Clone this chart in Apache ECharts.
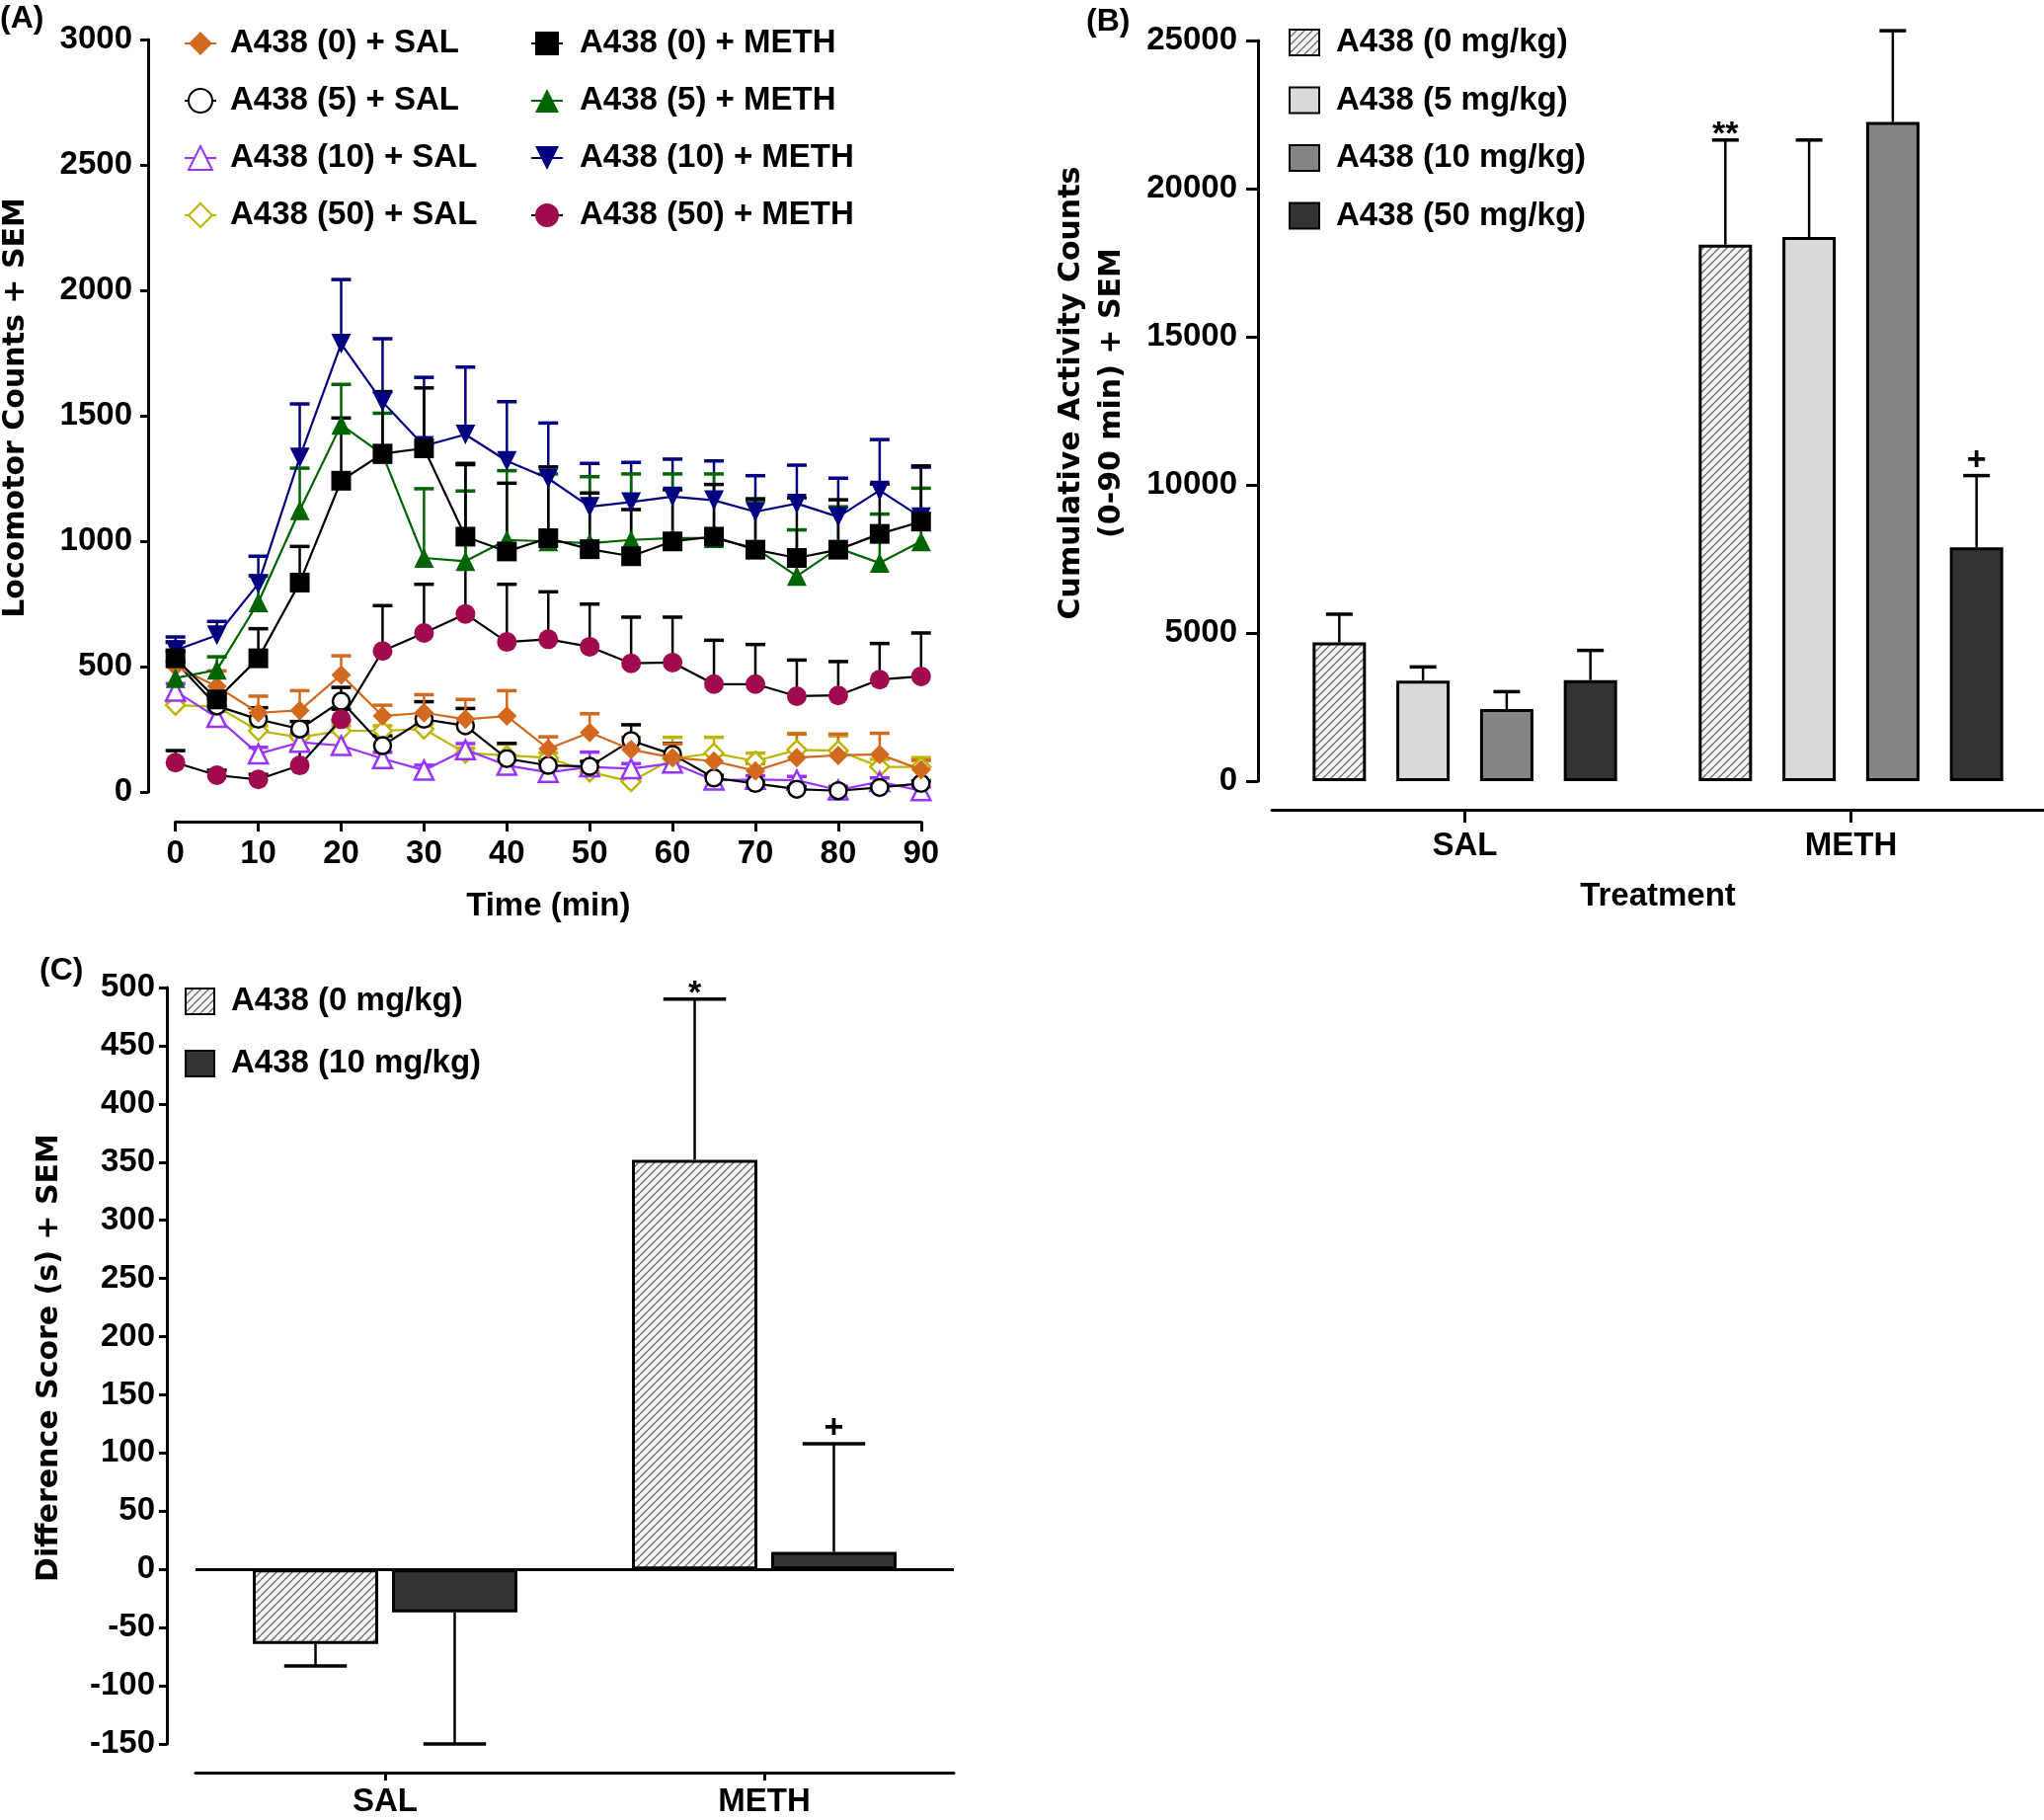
<!DOCTYPE html>
<html><head><meta charset="utf-8">
<script src="https://cdn.jsdelivr.net/npm/echarts/dist/echarts.min.js"></script>
<style>html,body{margin:0;padding:0;background:#fff}#c{width:2070px;height:1843px}</style>
</head><body><div id="c"></div>
<script>
// ---------- Panel A: locomotor counts over time ----------
const timeMin = [0,5,10,15,20,25,30,35,40,45,50,55,60,65,70,75,80,85,90];
const sal0 = [500,421,316,325,467,303,316,290,303,172,237,169,137,123,84,137,146,150,89];
const sal0Sem = [96,62,66,79,76,43,72,79,101,48,75,49,55,30,30,94,85,84,37];
const sal5 = [520,343,290,251,362,185,290,264,133,106,102,205,150,56,34,11,5,18,34];
const sal5Sem = [40,30,46,30,55,39,70,69,61,20,20,63,44,10,10,10,10,10,10];
const sal10 = [402,297,152,198,185,133,87,168,106,78,100,93,115,47,50,47,8,41,5];
const sal10Sem = [30,25,26,30,98,25,20,25,20,20,59,20,20,15,15,15,15,15,15];
const sal50 = [346,340,244,218,244,244,251,155,146,136,80,41,133,155,123,168,165,100,100];
const sal50Sem = [15,20,20,20,20,20,20,20,46,20,20,20,85,63,32,66,59,30,37];
const meth0 = [533,369,533,835,1241,1349,1370,1018,959,1012,968,940,999,1018,966,933,966,1029,1078];
const meth0Sem = [65,21,118,144,250,247,241,292,272,284,224,186,206,208,203,240,199,199,222];
const meth5 = [454,487,756,1123,1464,1346,933,920,1005,999,992,1005,1012,1012,972,861,972,913,999];
const meth5Sem = [66,52,105,168,161,164,276,280,276,269,265,263,256,256,191,184,165,195,212];
const meth10 = [565,625,830,1334,1787,1555,1380,1425,1320,1250,1137,1156,1178,1163,1117,1150,1097,1202,1095];
const meth10Sem = [53,55,110,213,256,252,273,269,236,221,173,158,149,157,144,153,154,203,200];
const meth50 = [117,67,50,106,290,562,634,710,598,609,579,513,516,430,430,382,385,448,461];
const meth50Sem = [48,20,20,59,40,181,194,595,230,189,170,184,181,175,158,144,135,144,173];
const yTicksA = [0,500,1000,1500,2000,2500,3000];

// ---------- Panel B: cumulative activity ----------
const treatments = ['SAL','METH'];
const doseNames = ['A438 (0 mg/kg)','A438 (5 mg/kg)','A438 (10 mg/kg)','A438 (50 mg/kg)'];
const cumDose0 = [4680,18110], cumSem0 = [955,3530];
const cumDose5 = [3390,18365], cumSem5 = [465,3275];
const cumDose10 = [2430,22250], cumSem10 = [590,3080];
const cumDose50 = [3410,7890], cumSem50 = [1003,2423];
const cumMarks0 = ['','**'], cumMarks50 = ['','+'];

// ---------- Panel C: difference score ----------
const diffDose0 = [-64,352], diffSem0 = [19,138];
const diffDose10 = [-37,15], diffSem10 = [113,93];
const diffMarks0 = ['','*'], diffMarks10 = ['','+'];

const FF = '"Liberation Sans", Arial, sans-serif';
const BLACK = '#000';

function hatch(){
  const c=document.createElement('canvas'); c.width=c.height=8;
  const g=c.getContext('2d'); g.fillStyle='#f3f3f3'; g.fillRect(0,0,8,8);
  g.strokeStyle='#6a6a6a'; g.lineWidth=1.3; g.beginPath();
  for (const o of [-8,0,8]) { g.moveTo(o,8); g.lineTo(o+8,0); }
  g.stroke(); return c;
}
const hatchFill = {image: hatch(), repeat: 'repeat'};

function errA(color){
  return function(params, api){
    const t=api.value(0), v=api.value(1), s=api.value(2);
    if (!s) return;
    const p0=api.coord([t,v]), p1=api.coord([t,v+s]);
    const cw=10;
    return {type:'group', children:[
      {type:'line', shape:{x1:p0[0],y1:p0[1],x2:p1[0],y2:p1[1]}, style:{stroke:color,lineWidth:2.5}},
      {type:'line', shape:{x1:p1[0]-cw,y1:p1[1],x2:p1[0]+cw,y2:p1[1]}, style:{stroke:color,lineWidth:3.5}}
    ]};
  };
}
function barErr(idx, n, bw, gapFrac, marks){
  return function(params, api){
    const cat=api.value(0), v=api.value(1), s=api.value(2);
    const base=api.coord([cat,v]);
    const gap=bw*gapFrac, total=n*bw+(n-1)*gap;
    const x=base[0]-total/2+idx*(bw+gap)+bw/2;
    const dir=v>=0?1:-1;
    const end=api.coord([cat,v+dir*s])[1];
    const cw=bw/4;
    const kids=[
      {type:'line', shape:{x1:x,y1:base[1],x2:x,y2:end}, style:{stroke:BLACK,lineWidth:2.5}},
      {type:'line', shape:{x1:x-cw,y1:end,x2:x+cw,y2:end}, style:{stroke:BLACK,lineWidth:3.5}}
    ];
    const m=marks&&marks[params.dataIndex];
    if (m) kids.push({type:'text', x:x, y:end-(m.indexOf('*')>=0?5:15),
      style:{text:m, fill:BLACK, font:'bold 34px '+FF, align:'center', verticalAlign:'middle'}});
    return {type:'group', children:kids};
  };
}

const groupsA = [
  {name:'A438 (50) + SAL', v:sal50, s:sal50Sem, c:'#bdb500', lc:'#bdb500', sym:'diamond', size:19, hollow:true},
  {name:'A438 (10) + SAL', v:sal10, s:sal10Sem, c:'#9933ff', lc:'#9933ff', sym:'triangle', size:19, hollow:true},
  {name:'A438 (5) + SAL', v:sal5, s:sal5Sem, c:'#000000', lc:'#000000', sym:'circle', size:17, hollow:true},
  {name:'A438 (0) + SAL', v:sal0, s:sal0Sem, c:'#d2691e', lc:'#d2691e', sym:'diamond', size:20},
  {name:'A438 (50) + METH', v:meth50, s:meth50Sem, c:'#a00b4f', lc:'#000000', sym:'circle', size:20},
  {name:'A438 (10) + METH', v:meth10, s:meth10Sem, c:'#000080', lc:'#000080', sym:'triangle', size:20, rot:180},
  {name:'A438 (5) + METH', v:meth5, s:meth5Sem, c:'#006400', lc:'#006400', sym:'triangle', size:20},
  {name:'A438 (0) + METH', v:meth0, s:meth0Sem, c:'#000000', lc:'#000000', sym:'rect', size:20}
];

const series = [];
groupsA.forEach((g,k)=>{
  series.push({type:'custom', name:g.name+' SEM', xAxisIndex:0, yAxisIndex:0, silent:true, z:2,
    data: timeMin.map((t,i)=>[t,g.v[i],g.s[i]]), renderItem: errA(g.lc)});
});
groupsA.forEach((g,k)=>{
  series.push({type:'line', name:g.name, xAxisIndex:0, yAxisIndex:0, z:3+k,
    data: timeMin.map((t,i)=>[t,g.v[i]]), symbol:g.sym, symbolSize:g.size, symbolRotate:g.rot||0,
    showSymbol:true, showAllSymbol:true, lineStyle:{color:g.lc,width:2.2},
    itemStyle: g.hollow ? {color:'#fff', borderColor:g.c, borderWidth:2.5} : {color:g.c, borderWidth:0},
    emphasis:{disabled:true}});
});

const barB = [
  {d:cumDose0, s:cumSem0, fill:hatchFill, m:cumMarks0},
  {d:cumDose5, s:cumSem5, fill:'#d9d9d9', m:null},
  {d:cumDose10, s:cumSem10, fill:'#858585', m:null},
  {d:cumDose50, s:cumSem50, fill:'#333333', m:cumMarks50}
];
const BWB=54, GAPB=0.57;
barB.forEach((b,i)=>{
  series.push({type:'bar', name:doseNames[i], xAxisIndex:1, yAxisIndex:1, data:b.d, barWidth:BWB, barGap:(GAPB*100)+'%',
    itemStyle:{color:b.fill, borderColor:BLACK, borderWidth:3}, emphasis:{disabled:true}});
});
barB.forEach((b,i)=>{
  series.push({type:'custom', name:'B err '+i, xAxisIndex:1, yAxisIndex:1, silent:true, z:5,
    data: treatments.map((t,j)=>[j,b.d[j],b.s[j]]), renderItem: barErr(i,4,BWB,GAPB,b.m)});
});
const barC = [
  {name:'C: '+doseNames[0], d:diffDose0, s:diffSem0, fill:hatchFill, m:diffMarks0},
  {name:'C: '+doseNames[2], d:diffDose10, s:diffSem10, fill:'#333333', m:diffMarks10}
];
const BWC=127, GAPC=0.11;
barC.forEach((b,i)=>{
  const s={type:'bar', name:b.name, xAxisIndex:2, yAxisIndex:2, data:b.d, barWidth:BWC, barGap:(GAPC*100)+'%',
    itemStyle:{color:b.fill, borderColor:BLACK, borderWidth:3}, emphasis:{disabled:true}};
  if (i===1) s.markLine={silent:true, symbol:'none', data:[{yAxis:0}], label:{show:false},
    lineStyle:{color:BLACK,width:3,type:'solid'}, z:10};
  series.push(s);
});
barC.forEach((b,i)=>{
  series.push({type:'custom', name:'C err '+i, xAxisIndex:2, yAxisIndex:2, silent:true, z:5,
    data: treatments.map((t,j)=>[j,b.d[j],b.s[j]]), renderItem: barErr(i,2,BWC,GAPC,b.m)});
});

const lab = {fontSize:33, fontWeight:'bold', color:BLACK, fontFamily:FF};
const plain = v => String(v);
const axLine = {show:true, onZero:false, lineStyle:{color:BLACK,width:3}};
function tick(len){ return {show:true, length:len, lineStyle:{color:BLACK,width:3}}; }

const legText = {fontSize:33, fontWeight:'bold', color:BLACK, fontFamily:FF, lineHeight:34};
const TITLE_FONT = 'bold 30px "DejaVu Sans"';

const option = {
  animation:false,
  backgroundColor:'#fff',
  textStyle:{fontFamily:FF, color:BLACK},
  grid:[
    {left:177.7, top:40, width:755.1, height:762, outerBoundsMode:'none'},
    {left:1288, top:41, width:782, height:750, outerBoundsMode:'none'},
    {left:198, top:1000, width:768, height:766, outerBoundsMode:'none'}
  ],
  xAxis:[
    {gridIndex:0, type:'value', min:0, max:90, interval:10, offset:30, axisLine:axLine, axisTick:tick(10),
     axisLabel:Object.assign({margin:16, formatter:plain},lab), splitLine:{show:false},
     name:'Time (min)', nameLocation:'middle', nameGap:69, nameTextStyle:lab},
    {gridIndex:1, type:'category', data:treatments, offset:29, axisLine:axLine,
     axisTick:Object.assign({alignWithLabel:true},tick(13)), axisLabel:Object.assign({margin:20},lab),
     name:'Treatment', nameLocation:'middle', nameGap:71, nameTextStyle:lab},
    {gridIndex:2, type:'category', data:treatments, offset:29, axisLine:axLine,
     axisTick:Object.assign({alignWithLabel:true},tick(8)), axisLabel:Object.assign({margin:13},lab)}
  ],
  yAxis:[
    {gridIndex:0, type:'value', min:yTicksA[0], max:yTicksA[yTicksA.length-1], interval:500, offset:27.7, axisLine:axLine,
     axisTick:tick(8), axisLabel:Object.assign({margin:16, formatter:plain},lab), splitLine:{show:false}},
    {gridIndex:1, type:'value', min:0, max:25000, interval:5000, offset:14, axisLine:axLine,
     axisTick:tick(12), axisLabel:Object.assign({margin:21, formatter:plain},lab), splitLine:{show:false}},
    {gridIndex:2, type:'value', min:-150, max:500, interval:50, offset:29, axisLine:axLine,
     axisTick:tick(8), axisLabel:Object.assign({margin:12, formatter:plain},lab), splitLine:{show:false}}
  ],
  legend:[
    {orient:'vertical', left:181, top:22, itemWidth:32, itemHeight:30, itemGap:24, selectedMode:false,
     data:['A438 (0) + SAL','A438 (5) + SAL','A438 (10) + SAL','A438 (50) + SAL'],
     textStyle:Object.assign({padding:[0,0,0,9]},legText)},
    {orient:'vertical', left:532, top:22, itemWidth:32, itemHeight:30, itemGap:24, selectedMode:false,
     data:['A438 (0) + METH','A438 (5) + METH','A438 (10) + METH','A438 (50) + METH'],
     textStyle:Object.assign({padding:[0,0,0,12]},legText)},
    {orient:'vertical', left:1300, top:21, itemWidth:30, itemHeight:26, itemGap:24.5, selectedMode:false, icon:'rect',
     data:doseNames, textStyle:Object.assign({padding:[0,0,0,12]},legText)},
    {orient:'vertical', left:182, top:992, itemWidth:29, itemHeight:26, itemGap:29, selectedMode:false, icon:'rect',
     data:barC.map(b=>b.name), formatter:n=>n.replace(/^C: /,''),
     textStyle:Object.assign({padding:[0,0,0,12]},legText)}
  ],
  graphic:[
    {type:'text', x:16, y:413, rotation:Math.PI/2, style:{text:'Locomotor Counts + SEM', font:TITLE_FONT, fill:BLACK, align:'center', verticalAlign:'middle'}},
    {type:'text', x:1085, y:398, rotation:Math.PI/2, style:{text:'Cumulative Activity Counts', font:TITLE_FONT, fill:BLACK, align:'center', verticalAlign:'middle'}},
    {type:'text', x:1126, y:398, rotation:Math.PI/2, style:{text:'(0-90 min) + SEM', font:TITLE_FONT, fill:BLACK, align:'center', verticalAlign:'middle'}},
    {type:'text', x:50, y:1375, rotation:Math.PI/2, style:{text:'Difference Score (s) + SEM', font:TITLE_FONT, fill:BLACK, align:'center', verticalAlign:'middle'}},
    {type:'text', x:0, y:19, style:{text:'(A)', font:'bold 32px '+FF, fill:BLACK, align:'left', verticalAlign:'middle'}},
    {type:'text', x:1100, y:22, style:{text:'(B)', font:'bold 32px '+FF, fill:BLACK, align:'left', verticalAlign:'middle'}},
    {type:'text', x:40, y:983, style:{text:'(C)', font:'bold 32px '+FF, fill:BLACK, align:'left', verticalAlign:'middle'}}
  ],
  series: series
};
const chart = echarts.init(document.getElementById('c'), null, {renderer:'canvas'});
chart.setOption(option);
</script>
</body></html>
